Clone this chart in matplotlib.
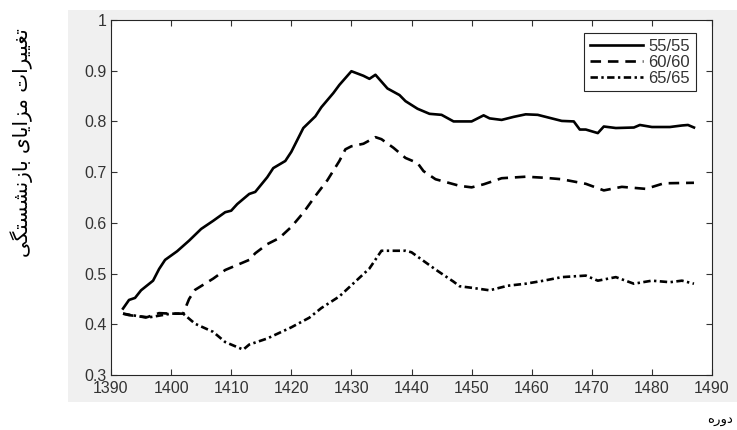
import numpy as np
import matplotlib
matplotlib.use('Agg')
import matplotlib.pyplot as plt
from matplotlib.patches import Rectangle

plt.rcParams['font.family'] = ['Liberation Sans', 'DejaVu Sans']

# سری ۵۵/۵۵
years_55 = [1392, 1393, 1394, 1395, 1397, 1398, 1399, 1401, 1403, 1405, 1407, 1409,
            1410, 1411, 1413, 1414, 1416, 1417, 1419, 1420, 1422, 1424, 1425, 1427,
            1428, 1430, 1432, 1433, 1434, 1436, 1438, 1439, 1441, 1443, 1445, 1447,
            1450, 1452, 1453, 1455, 1457, 1459, 1461, 1463, 1465, 1467, 1468, 1469,
            1471, 1472, 1474, 1477, 1478, 1480, 1483, 1485, 1486, 1487]
vals_55 = [0.431, 0.448, 0.452, 0.467, 0.486, 0.509, 0.527, 0.544, 0.565, 0.588, 0.604, 0.621,
           0.624, 0.637, 0.657, 0.661, 0.690, 0.708, 0.722, 0.740, 0.787, 0.810, 0.828, 0.856,
           0.872, 0.899, 0.890, 0.884, 0.892, 0.865, 0.852, 0.840, 0.825, 0.815, 0.813, 0.800,
           0.800, 0.812, 0.806, 0.803, 0.809, 0.814, 0.813, 0.807, 0.801, 0.800, 0.784, 0.784,
           0.777, 0.790, 0.787, 0.788, 0.793, 0.789, 0.789, 0.792, 0.793, 0.788]

# سری ۶۰/۶۰
years_60 = [1392, 1393, 1396, 1398, 1400, 1402, 1403, 1404, 1407, 1409, 1413, 1414,
            1416, 1418, 1420, 1422, 1424, 1426, 1428, 1429, 1430, 1432, 1434, 1435,
            1437, 1439, 1441, 1442, 1444, 1448, 1450, 1452, 1455, 1459, 1462, 1465,
            1469, 1472, 1475, 1479, 1482, 1487]
vals_60 = [0.421, 0.418, 0.414, 0.422, 0.421, 0.421, 0.450, 0.468, 0.490, 0.507, 0.527, 0.540,
           0.558, 0.570, 0.592, 0.620, 0.653, 0.684, 0.722, 0.745, 0.751, 0.756, 0.769, 0.765,
           0.748, 0.728, 0.718, 0.702, 0.686, 0.673, 0.670, 0.676, 0.688, 0.691, 0.689, 0.686,
           0.677, 0.664, 0.671, 0.667, 0.678, 0.679]

# سری ۶۵/۶۵
years_65 = [1392, 1396, 1400, 1402, 1404, 1407, 1409, 1412, 1413, 1416, 1418, 1420,
            1423, 1425, 1428, 1430, 1433, 1435, 1437, 1439, 1440, 1442, 1444, 1447,
            1448, 1450, 1453, 1456, 1459, 1462, 1465, 1469, 1471, 1474, 1477, 1480,
            1483, 1485, 1487]
vals_65 = [0.421, 0.413, 0.421, 0.421, 0.401, 0.385, 0.365, 0.350, 0.360, 0.372, 0.383, 0.394,
           0.413, 0.432, 0.455, 0.477, 0.510, 0.545, 0.545, 0.545, 0.542, 0.525, 0.508, 0.484,
           0.475, 0.472, 0.467, 0.476, 0.480, 0.486, 0.493, 0.496, 0.486, 0.493, 0.480, 0.486,
           0.483, 0.486, 0.480]

series_labels = ['55/55', '60/60', '65/65']
x_ticks = np.arange(1390, 1491, 10)
y_ticks = np.arange(0.3, 1.01, 0.1)

ylabel_fa = 'تغییرات مزایای بازنشستگی'
xlabel_fa = 'دوره'

# شکل‌های حروف: جدا، پایانی، آغازی، میانی
FORMS = {
    'ا': ('\uFE8D', '\uFE8E', None, None),
    'ب': ('\uFE8F', '\uFE90', '\uFE91', '\uFE92'),
    'ت': ('\uFE95', '\uFE96', '\uFE97', '\uFE98'),
    'د': ('\uFEA9', '\uFEAA', None, None),
    'ر': ('\uFEAD', '\uFEAE', None, None),
    'ز': ('\uFEAF', '\uFEB0', None, None),
    'س': ('\uFEB1', '\uFEB2', '\uFEB3', '\uFEB4'),
    'ش': ('\uFEB5', '\uFEB6', '\uFEB7', '\uFEB8'),
    'غ': ('\uFECD', '\uFECE', '\uFECF', '\uFED0'),
    'م': ('\uFEE1', '\uFEE2', '\uFEE3', '\uFEE4'),
    'ن': ('\uFEE5', '\uFEE6', '\uFEE7', '\uFEE8'),
    'ه': ('\uFEE9', '\uFEEA', '\uFEEB', '\uFEEC'),
    'و': ('\uFEED', '\uFEEE', None, None),
    'ی': ('\uFBFC', '\uFBFD', '\uFBFE', '\uFBFF'),
    'گ': ('\uFB92', '\uFB93', '\uFB94', '\uFB95'),
}


def shape(text):
    # اتصال حروف و برگرداندن ترتیب برای نمایش راست به چپ
    out = []
    for i, ch in enumerate(text):
        if ch not in FORMS:
            out.append(ch)
            continue
        prev = text[i - 1] if i > 0 else ''
        nxt = text[i + 1] if i + 1 < len(text) else ''
        iso, fin, ini, med = FORMS[ch]
        join_prev = prev in FORMS and FORMS[prev][2] is not None
        join_next = ini is not None and nxt in FORMS
        if join_prev and join_next:
            out.append(med)
        elif join_prev:
            out.append(fin)
        elif join_next:
            out.append(ini)
        else:
            out.append(iso)
    return ''.join(reversed(out))


fig = plt.figure(figsize=(7.37, 4.30), dpi=100, facecolor='white')
# زمینه خاکستری پشت نمودار
fig.patches.append(Rectangle((68 / 737, 1 - 402 / 430), 669 / 737, 392 / 430,
                             transform=fig.transFigure, facecolor='#f0f0f0',
                             edgecolor='none', zorder=-1))

ax = fig.add_axes([111 / 737, 1 - 375 / 430, 601 / 737, 355 / 430])
ax.set_facecolor('white')

lw = 1.9
ax.plot(years_55, vals_55, color='black', lw=lw, linestyle='-', label=series_labels[0])
ax.plot(years_60, vals_60, color='black', lw=lw, linestyle=(0, (4.0, 2.6)), label=series_labels[1])
ax.plot(years_65, vals_65, color='black', lw=lw, linestyle=(0, (2.8, 1.3, 0.9, 1.3)),
        label=series_labels[2])

ax.set_xlim(1390, 1490)
ax.set_ylim(0.3, 1.0)
ax.set_xticks(x_ticks)
ax.set_yticks(y_ticks)
ax.set_yticklabels(['0.3', '0.4', '0.5', '0.6', '0.7', '0.8', '0.9', '1'])
ax.tick_params(direction='in', length=4, width=0.8, top=True, right=True,
               labelsize=11.5, colors='#333333', pad=3)
ax.tick_params(axis='x', pad=4.5)
for sp in ax.spines.values():
    sp.set_color('#262626')
    sp.set_linewidth(0.8)

leg = ax.legend(loc='upper right', bbox_to_anchor=(0.973, 0.963), borderaxespad=0,
                fontsize=12, handlelength=3.2, handletextpad=0.3, labelspacing=0.05,
                borderpad=0.35, fancybox=False, framealpha=1, edgecolor='#262626')
leg.get_frame().set_linewidth(0.8)
for t in leg.get_texts():
    t.set_color('#333333')

fig.text(22 / 737, 1 - 143 / 430, shape(ylabel_fa), rotation=90, ha='center', va='center',
         fontsize=14.5, family=['DejaVu Sans'])
fig.text(720 / 737, 1 - 419 / 430, shape(xlabel_fa), ha='center', va='center',
         fontsize=9.5, family=['DejaVu Sans'])

fig.savefig('out.png', dpi=100, facecolor='white')
